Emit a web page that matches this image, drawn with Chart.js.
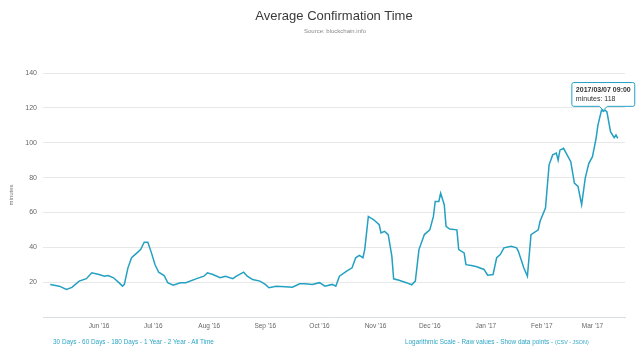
<!DOCTYPE html>
<html>
<head>
<meta charset="utf-8">
<script src="https://cdn.jsdelivr.net/npm/chart.js@4.4.1/dist/chart.umd.min.js"></script>
<style>
  html, body { margin: 0; padding: 0; background: #fff; }
  body { width: 640px; height: 356px; position: relative; overflow: hidden; font-family: "Liberation Sans", Arial, Helvetica, sans-serif; }
  #wrap { position: absolute; left: 0; top: 0; width: 640px; height: 356px; }
  .title { position: absolute; top: 8px; left: 0; width: 668px; text-align: center; font-size: 13px; color: #3a3a3a; }
  .sub { position: absolute; top: 28px; left: 0; width: 670px; text-align: center; font-size: 6px; color: #8a8a8a; }
  .links { position: absolute; top: 338px; font-size: 6.4px; color: #2ea6c6; white-space: nowrap; }
  .small { font-size: 5.4px; }
</style>
</head>
<body>
<div id="wrap"><canvas id="c" width="640" height="356"></canvas></div>
<div class="title">Average Confirmation Time</div>
<div class="sub">Source: blockchain.info</div>
<div class="links" style="left:53px;">30 Days - 60 Days - 180 Days - 1 Year - 2 Year - All Time</div>
<div class="links" style="left:405px;">Logarithmic Scale - Raw values - Show data points - <span class="small">(CSV - JSON)</span></div>
<script>
// ---- data ----
const dates = [
  '2016-05-05','2016-05-10','2016-05-14','2016-05-17','2016-05-21','2016-05-25','2016-05-28',
  '2016-06-01','2016-06-04','2016-06-06','2016-06-09','2016-06-12','2016-06-14','2016-06-15',
  '2016-06-17','2016-06-19','2016-06-22','2016-06-24','2016-06-26','2016-06-28','2016-06-30',
  '2016-07-02','2016-07-04','2016-07-07','2016-07-09','2016-07-12','2016-07-16','2016-07-19',
  '2016-07-25','2016-07-29','2016-07-31','2016-08-03','2016-08-07','2016-08-10','2016-08-14',
  '2016-08-16','2016-08-20','2016-08-22','2016-08-25','2016-08-29','2016-09-01','2016-09-03',
  '2016-09-07','2016-09-12','2016-09-16','2016-09-20','2016-09-23','2016-09-27','2016-10-01',
  '2016-10-04','2016-10-08','2016-10-10','2016-10-12','2016-10-16','2016-10-19','2016-10-21',
  '2016-10-23','2016-10-25','2016-10-26','2016-10-28','2016-10-31','2016-11-03','2016-11-04',
  '2016-11-06','2016-11-08','2016-11-10','2016-11-11','2016-11-14','2016-11-18','2016-11-21',
  '2016-11-23','2016-11-25','2016-11-28','2016-12-01','2016-12-03','2016-12-04','2016-12-06',
  '2016-12-07','2016-12-09','2016-12-10','2016-12-12','2016-12-16','2016-12-17','2016-12-20',
  '2016-12-21','2016-12-24','2016-12-27','2016-12-31','2017-01-02','2017-01-05','2017-01-07',
  '2017-01-09','2017-01-11','2017-01-15','2017-01-18','2017-01-19','2017-01-22','2017-01-24',
  '2017-01-26','2017-01-30','2017-01-31','2017-02-03','2017-02-05','2017-02-07','2017-02-09',
  '2017-02-10','2017-02-11','2017-02-13','2017-02-14','2017-02-17','2017-02-19','2017-02-21',
  '2017-02-23','2017-02-25','2017-02-27','2017-03-01','2017-03-03','2017-03-04','2017-03-06',
  '2017-03-07','2017-03-08','2017-03-09','2017-03-11','2017-03-13','2017-03-14','2017-03-15'
];
const minutes = [
  18.7,17.7,15.8,17.0,20.6,22.0,25.4,
  24.4,23.4,23.8,22.5,19.7,17.7,18.7,
  28.2,34.0,36.8,38.7,42.9,42.9,36.8,
  30.0,25.7,23.8,19.7,18.3,19.7,19.7,
  22.0,23.4,25.4,24.4,22.5,23.4,22.0,
  23.4,25.7,23.4,21.5,20.6,18.7,16.8,
  17.7,17.4,17.1,19.1,19.1,18.7,19.7,
  17.7,18.7,17.7,23.4,26.3,28.2,34.0,
  35.3,34.0,38.7,57.7,55.8,53.0,48.2,
  49.1,47.3,34.9,21.9,21.1,19.7,18.5,
  20.6,38.7,47.3,50.0,57.7,66.3,66.3,
  71.0,64.4,52.0,50.5,50.0,38.7,36.8,
  30.0,29.5,28.8,27.3,24.0,24.4,34.0,
  35.8,39.7,40.6,39.7,37.7,28.2,23.4,
  47.3,50.0,54.9,62.5,87.3,93.0,94.0,
  90.0,95.7,96.8,94.9,89.1,76.8,74.9,
  64.4,79.7,88.2,92.0,102.5,110.0,118.7,
  118,118.7,117.7,106.3,102.9,104.4,102.5
];
const monthTickDates = ['2016-06-01','2016-07-01','2016-08-01','2016-09-01','2016-10-01','2016-11-01','2016-12-01','2017-01-01','2017-02-01','2017-03-01'];
const monthTickLabels = ["Jun '16","Jul '16","Aug '16","Sep '16","Oct '16","Nov '16","Dec '16","Jan '17","Feb '17","Mar '17"];
const yTicks = [0, 20, 40, 60, 80, 100, 120, 140];
const tooltipDate = '2017-03-07';
const tooltipTitle = '2017/03/07 09:00';
const seriesName = 'minutes';

// ---- helpers ----
function dayOf(s) {
  const p = s.split('-').map(Number);
  return (Date.UTC(p[0], p[1] - 1, p[2]) - Date.UTC(2016, 5, 1)) / 86400000;
}
const points = dates.map((d, i) => ({ x: dayOf(d), y: minutes[i] }));
const tickVals = monthTickDates.map(dayOf);

const FONT = '"Liberation Sans", Arial, Helvetica, sans-serif';
const LINE = '#23a0c2';

const chart = new Chart(document.getElementById('c'), {
  type: 'line',
  data: {
    datasets: [{
      label: seriesName,
      data: points,
      borderColor: LINE,
      borderWidth: 1.5,
      pointRadius: 0,
      pointHoverRadius: 0,
      tension: 0,
      fill: false
    }]
  },
  options: {
    responsive: false,
    animation: false,
    events: [],
    layout: { padding: { left: 8, right: 15, top: 73, bottom: 19 } },
    plugins: {
      legend: { display: false },
      title: { display: false },
      tooltip: {
        enabled: true,
        yAlign: 'bottom',
        xAlign: 'center',
        caretSize: 4,
        caretPadding: 1,
        padding: { left: 4, right: 4, top: 3, bottom: 3 },
        backgroundColor: 'rgba(255,255,255,0.95)',
        borderColor: LINE,
        borderWidth: 1,
        cornerRadius: 2,
        displayColors: false,
        titleColor: '#333',
        bodyColor: '#333',
        titleFont: { family: FONT, size: 7, weight: 'bold' },
        bodyFont: { family: FONT, size: 7 },
        titleMarginBottom: 1,
        callbacks: {
          title: () => tooltipTitle,
          label: (ctx) => seriesName + ': ' + Math.round(ctx.parsed.y)
        }
      }
    },
    scales: {
      x: {
        type: 'linear',
        min: dayOf('2016-05-01'),
        max: dayOf('2017-03-19'),
        grid: { display: false, drawTicks: false },
        border: { display: true, color: '#d8dee6', width: 1 },
        afterBuildTicks: (s) => { s.ticks = tickVals.map(v => ({ value: v })); },
        afterFit: (s) => { s.height = 20; },
        ticks: {
          autoSkip: false,
          maxRotation: 0,
          padding: 5,
          color: '#666',
          font: { family: FONT, size: 6.5 },
          callback: (v) => { const i = tickVals.indexOf(v); return i >= 0 ? monthTickLabels[i] : ''; }
        }
      },
      y: {
        min: 0,
        max: 140,
        afterBuildTicks: (s) => { s.ticks = yTicks.map(v => ({ value: v })); },
        afterFit: (s) => { s.width = 35; },
        grid: { color: (c) => c.tick && c.tick.value === 0 ? 'rgba(0,0,0,0)' : '#e8e8e8', drawTicks: false, lineWidth: 1 },
        border: { display: false },
        title: { display: true, text: 'minutes', color: '#777', font: { family: FONT, size: 6 }, padding: 0 },
        ticks: {
          padding: 6,
          color: '#666',
          font: { family: FONT, size: 7 },
          callback: (v) => v === 0 ? '' : v
        }
      }
    }
  }
});

const ti = dates.indexOf(tooltipDate);
const meta = chart.getDatasetMeta(0);
const el = meta.data[ti];
chart.tooltip.setActiveElements([{ datasetIndex: 0, index: ti }], { x: el.x, y: el.y });
chart.update();
</script>
</body>
</html>
